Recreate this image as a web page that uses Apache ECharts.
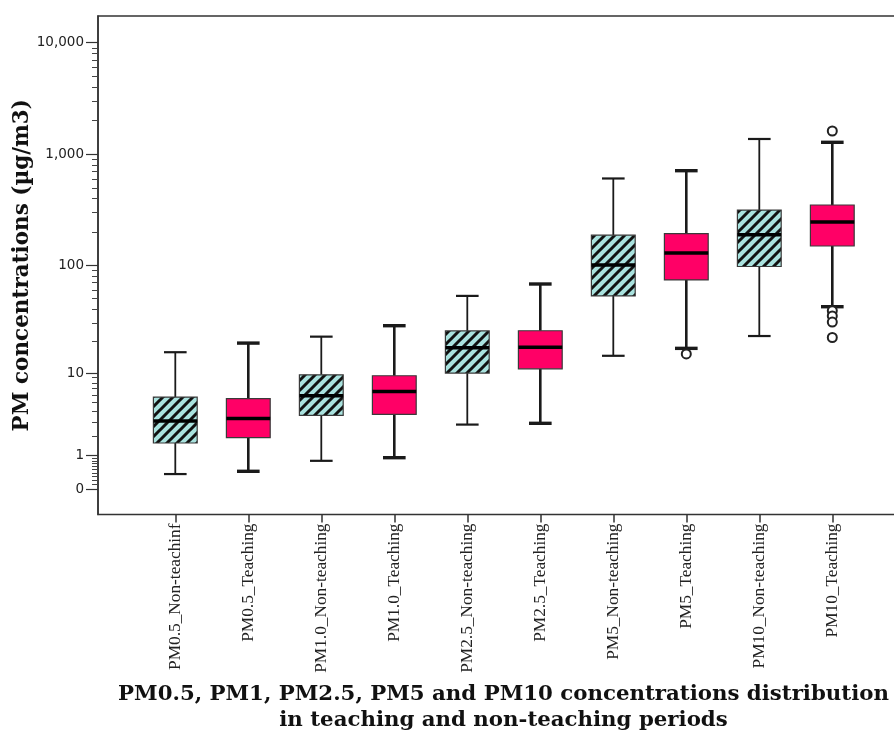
<!DOCTYPE html>
<html>
<head>
<meta charset="utf-8">
<script src="https://cdn.jsdelivr.net/npm/echarts@6/dist/echarts.min.js"></script>
<style>
  html, body { margin: 0; padding: 0; background: #fff; }
  #chart { width: 894px; height: 736px; }
</style>
</head>
<body>
<div id="chart"></div>
<script>
// Particle concentrations (µg/m3) per size class and period
const categories = [
  'PM0.5_Non-teachinf', 'PM0.5_Teaching',
  'PM1.0_Non-teaching', 'PM1.0_Teaching',
  'PM2.5_Non-teaching', 'PM2.5_Teaching',
  'PM5_Non-teaching', 'PM5_Teaching',
  'PM10_Non-teaching', 'PM10_Teaching'
];
const whiskerLow  = [0.37, 0.45, 0.80, 0.92, 2.8, 2.9, 14.7, 17.3, 22.6, 42.2];
const quartile1   = [1.6, 1.9, 3.6, 3.7, 10.0, 11.0, 53, 74, 98, 150];
const median      = [3.1, 3.3, 5.9, 6.5, 17.5, 17.7, 101, 130, 190, 247];
const quartile3   = [5.7, 5.5, 9.6, 9.4, 25.2, 25.3, 188, 194, 316, 351];
const whiskerHigh = [15.9, 19.4, 22.3, 28.2, 53, 68, 607, 713, 1372, 1281];
// [category index, value]
const outliers = [[7, 15.3], [9, 1618], [9, 38.8], [9, 34.7], [9, 30.5], [9, 21.9]];

const yTickValues = [0, 1, 10, 100, 1000, 10000];
const yTickLabels = ['0', '1', '10', '100', '1,000', '10,000'];
const yRangeRaw = [-0.405, 17340];

// "safe log" transform used by the value axis: log10(v + 1)
const safeLog = v => Math.log10(v + 1);

const yMin = safeLog(yRangeRaw[0]);
const yMax = safeLog(yRangeRaw[1]);
const majorTicks = yTickValues.map(safeLog);
const minorTicks = [];
for (let k = 1; k <= 9; k++) minorTicks.push(safeLog(k / 10));
[1, 10, 100, 1000].forEach(d => {
  for (let k = 2; k <= 9; k++) minorTicks.push(safeLog(k * d));
});

function tickLabel(v) {
  let best = 0;
  majorTicks.forEach((t, i) => { if (Math.abs(t - v) < Math.abs(majorTicks[best] - v)) best = i; });
  return yTickLabels[best];
}

// Diagonal hatch tile for the non-teaching boxes
function hatchTile() {
  const s = 10;
  const c = document.createElement('canvas');
  c.width = s; c.height = s;
  const g = c.getContext('2d');
  g.fillStyle = '#a9e2de';
  g.fillRect(0, 0, s, s);
  g.strokeStyle = '#111';
  g.lineWidth = 3;
  g.beginPath();
  g.moveTo(-s / 2, s / 2); g.lineTo(s / 2, -s / 2);
  g.moveTo(0, s); g.lineTo(s, 0);
  g.moveTo(s / 2, s * 1.5); g.lineTo(s * 1.5, s / 2);
  g.stroke();
  return c;
}

function boxRows(parity) {
  const rows = [];
  categories.forEach((c, i) => {
    if (i % 2 === parity) {
      rows.push([i, safeLog(whiskerLow[i]), safeLog(quartile1[i]), safeLog(median[i]),
                 safeLog(quartile3[i]), safeLog(whiskerHigh[i])]);
    }
  });
  return rows;
}

function makeBoxRenderer(fill, whiskerWidth, capWidth) {
  return function (params, api) {
    const i = api.value(0);
    const pLo = api.coord([i, api.value(1)]);
    const pQ1 = api.coord([i, api.value(2)]);
    const pMed = api.coord([i, api.value(3)]);
    const pQ3 = api.coord([i, api.value(4)]);
    const pHi = api.coord([i, api.value(5)]);
    const band = api.size([1, 0])[0];
    const half = band * 0.3;
    const cap = band * 0.155;
    const cx = pMed[0];
    const ws = () => ({ stroke: '#1a1a1a', lineWidth: whiskerWidth });
    const cs = () => ({ stroke: '#1a1a1a', lineWidth: capWidth });
    return {
      type: 'group',
      children: [
        { type: 'line', shape: { x1: cx, y1: pHi[1], x2: cx, y2: pQ3[1] }, style: ws() },
        { type: 'line', shape: { x1: cx, y1: pQ1[1], x2: cx, y2: pLo[1] }, style: ws() },
        { type: 'line', shape: { x1: cx - cap, y1: pHi[1], x2: cx + cap, y2: pHi[1] }, style: cs() },
        { type: 'line', shape: { x1: cx - cap, y1: pLo[1], x2: cx + cap, y2: pLo[1] }, style: cs() },
        { type: 'rect', shape: { x: cx - half, y: pQ3[1], width: half * 2, height: pQ1[1] - pQ3[1] },
          style: { fill: fill, stroke: '#3a3a3a', lineWidth: 1.2 } },
        { type: 'line', shape: { x1: cx - half, y1: pMed[1], x2: cx + half, y2: pMed[1] },
          style: { stroke: '#000', lineWidth: 3.5 } }
      ]
    };
  };
}

const chart = echarts.init(document.getElementById('chart'), null, { renderer: 'canvas' });

const option = {
  animation: false,
  backgroundColor: '#fff',
  grid: [
    { left: 98, right: -15, top: 16, bottom: 221.5, show: true, borderColor: '#333', borderWidth: 1.5,
      backgroundColor: 'transparent', containLabel: false, outerBoundsMode: 'none' },
    { left: 138.8, right: 25.2, top: 16, bottom: 221.5, containLabel: false, outerBoundsMode: 'none' }
  ],
  xAxis: [
    {
      gridIndex: 0, type: 'value', min: 0, max: 1,
      axisLine: { show: false, onZero: false }, axisTick: { show: false }, axisLabel: { show: false },
      splitLine: { show: false },
      name: 'PM0.5, PM1, PM2.5, PM5 and PM10 concentrations distribution\nin teaching and non-teaching periods',
      nameLocation: 'middle', nameGap: 167, nameMoveOverlap: false,
      nameTextStyle: { fontFamily: 'DejaVu Serif', fontWeight: 'bold', fontSize: 21.3, lineHeight: 26, color: '#111' }
    },
    {
      gridIndex: 1, type: 'category', data: categories, boundaryGap: true, position: 'bottom',
      axisLine: { show: false, onZero: false },
      axisTick: { show: true, alignWithLabel: true, length: 8, lineStyle: { color: '#333', width: 1.5 } },
      axisLabel: { rotate: 90, interval: 0, margin: 9, color: '#222', fontFamily: 'Liberation Serif', fontSize: 17.3 },
      splitLine: { show: false }
    }
  ],
  yAxis: [
    {
      gridIndex: 0, type: 'value', position: 'left', min: yMin, max: yMax,
      axisLine: { show: true, onZero: false, lineStyle: { color: '#333', width: 1.5 } },
      axisTick: { show: true, length: 12, customValues: majorTicks, lineStyle: { color: '#333', width: 1.2 } },
      axisLabel: { customValues: majorTicks, formatter: tickLabel, margin: 14, color: '#222',
                   fontFamily: 'DejaVu Sans', fontSize: 13.5 },
      splitLine: { show: false },
      name: 'PM concentrations (µg/m3)', nameLocation: 'middle', nameGap: 65, nameRotate: 90,
      nameMoveOverlap: false,
      nameTextStyle: { fontFamily: 'DejaVu Serif', fontWeight: 'bold', fontSize: 21.5, color: '#111' }
    },
    {
      gridIndex: 0, type: 'value', position: 'left', min: yMin, max: yMax,
      axisLine: { show: false, onZero: false },
      axisTick: { show: true, length: 6, customValues: minorTicks, lineStyle: { color: '#444', width: 1 } },
      axisLabel: { show: false },
      splitLine: { show: false }
    },
    {
      gridIndex: 1, type: 'value', min: yMin, max: yMax, show: false, splitLine: { show: false }
    }
  ],
  series: [
    {
      name: 'Non-teaching', type: 'custom', xAxisIndex: 1, yAxisIndex: 2,
      data: boxRows(0), encode: { x: 0, y: [1, 2, 3, 4, 5] },
      renderItem: makeBoxRenderer({ image: hatchTile(), repeat: 'repeat' }, 1.8, 2.2)
    },
    {
      name: 'Teaching', type: 'custom', xAxisIndex: 1, yAxisIndex: 2,
      data: boxRows(1), encode: { x: 0, y: [1, 2, 3, 4, 5] },
      renderItem: makeBoxRenderer('#ff0066', 2.6, 3.4)
    },
    {
      name: 'Outliers', type: 'scatter', xAxisIndex: 1, yAxisIndex: 2, z: 5,
      symbol: 'circle', symbolSize: 9,
      itemStyle: { color: '#fff', borderColor: '#222', borderWidth: 2, opacity: 1 },
      data: outliers.map(o => [o[0], safeLog(o[1])])
    }
  ]
};

chart.setOption(option);
</script>
</body>
</html>
